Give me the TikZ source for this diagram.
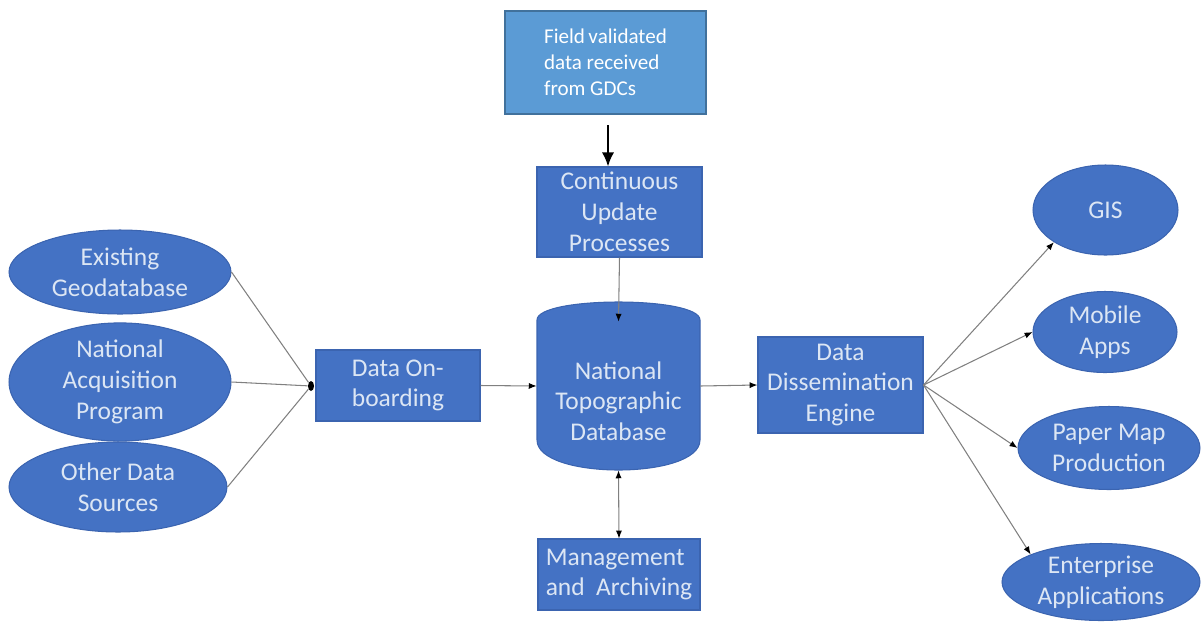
\documentclass[tikz,border=0pt]{standalone}
\usepackage{fontspec}
\setmainfont{Carlito}
\usetikzlibrary{shapes.geometric,arrows.meta}
\definecolor{hopxanh}{HTML}{4472C4}
\definecolor{vienxanh}{HTML}{3B64B0}
\definecolor{onhat}{HTML}{5B9BD5}
\definecolor{vienonhat}{HTML}{41719C}
\definecolor{chunhat}{HTML}{DCE6F4}
\definecolor{daynoi}{HTML}{808080}
\begin{document}
\begin{tikzpicture}[x=0.02cm,y=-0.02cm,
	hop/.style={rectangle,fill=hopxanh,draw=vienxanh,line width=0.6pt,text=chunhat,
		font=\fontsize{14.5}{17.5}\selectfont,align=center,inner sep=0pt},
	elip/.style={ellipse,fill=hopxanh,draw=vienxanh,line width=0.6pt,text=chunhat,
		font=\fontsize{14.5}{17.5}\selectfont,align=center,inner sep=0pt},
	noi/.style={draw=daynoi,line width=0.6pt,-{Latex[black,length=4.5pt,width=3.5pt]}},
	noihai/.style={draw=daynoi,line width=0.6pt,{Latex[black,length=4.5pt,width=3.5pt]}-{Latex[black,length=4.5pt,width=3.5pt]}},
	day/.style={draw=daynoi,line width=0.6pt}]
	\useasboundingbox (0,0) rectangle (1201,623);
	\node[rectangle,fill=onhat,draw=vienonhat,line width=1pt,text=white,align=left,
		font=\fontsize{12}{14.8}\selectfont,minimum width=4.02cm,minimum height=2.06cm]
		(field) at (605.5,62.5) {Field\,validated\\ data received\\ from GDCs};
	\node[hop,minimum width=3.3cm,minimum height=1.8cm] (cont) at (619.5,212) {Continuous\\Update\\Processes};
	\filldraw[fill=hopxanh,draw=vienxanh,line width=0.6pt] (537,320) .. controls (537,296) and (700,296) .. (700,320)
		-- (700,440) .. controls (700,480) and (537,480) .. (537,440) -- cycle;
	\node[minimum width=3.26cm,minimum height=3.36cm,inner sep=0pt] (ntd) at (618.5,386) {};
	\node[text=chunhat,font=\fontsize{14.5}{17.5}\selectfont,align=center] (ntdtext) at (618.5,401) {National\\Topographic\\Database};
	\node[hop,align=left,minimum width=3.28cm,minimum height=1.42cm] (onboard) at (398,385.5) {Data On-\\boarding};
	\node[hop,minimum width=3.3cm,minimum height=1.92cm] (diss) at (840.5,385) {Data\\Dissemination\\Engine};
	\node[hop,align=left,minimum width=3.24cm,minimum height=1.42cm] (mgmt) at (619,574.5) {Management\\and\ \ Archiving};
	\node[elip,minimum width=4.44cm,minimum height=1.68cm] (exist) at (120,272) {Existing\\Geodatabase};
	\node[elip,minimum width=4.44cm,minimum height=2cm] (nap) at (120,382) {National\\Acquisition\\Program};
	\node[elip,minimum width=4.36cm,minimum height=1.8cm] (other) at (118,487) {Other Data\\Sources};
	\node[elip,minimum width=2.9cm,minimum height=1.8cm] (gis) at (1105.5,210) {GIS};
	\node[elip,minimum width=2.88cm,minimum height=1.62cm] (mobile) at (1105,332) {Mobile\\Apps};
	\node[elip,minimum width=3.64cm,minimum height=1.66cm] (paper) at (1109,448) {Paper Map\\Production};
	\node[elip,minimum width=3.96cm,minimum height=1.54cm] (ent) at (1101,582) {Enterprise\\Applications};
	\node[ellipse,fill=black,inner sep=0pt,minimum width=0.12cm,minimum height=0.2cm] (hub) at (311,386) {};
	\draw[day] (exist.east) -- (hub);
	\draw[day] (nap.east) -- (hub);
	\draw[day] (other.east) -- (hub);
	\draw[line width=1.2pt,-{Latex[length=8pt,width=7pt]},shorten <=6pt] ([xshift=0.05cm]field.south) -- ([xshift=0.05cm]field.south |- cont.north);
	\draw[noi] (cont.south) -- ([yshift=-0.4cm]ntd.north);
	\draw[noi] (onboard.east) -- (ntd.west);
	\draw[noi] (ntd.east) -- (diss.west);
	\draw[noihai] (ntd.south) -- (mgmt.north);
	\draw[noi] (diss.east) -- (gis.south west);
	\draw[noi] (diss.east) -- (mobile.west);
	\draw[noi] (diss.east) -- (paper.west);
	\draw[noi] (diss.east) -- (ent.north west);
\end{tikzpicture}
\end{document}
